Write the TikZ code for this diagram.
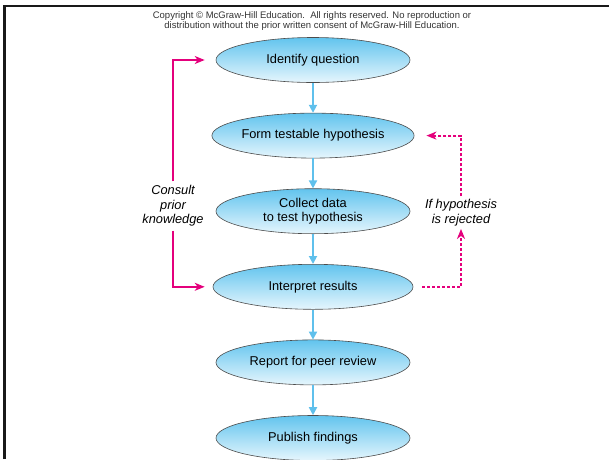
\documentclass[tikz,border=0pt]{standalone}
\usepackage{fontspec}
\setmainfont{Liberation Sans}
\usetikzlibrary{arrows.meta, positioning, shapes.geometric}

\definecolor{skyline}{RGB}{95,192,236}
\definecolor{skytop}{RGB}{98,196,238}
\definecolor{skybottom}{RGB}{230,246,253}
\definecolor{loopmagenta}{RGB}{228,0,124}

\begin{document}
\begin{tikzpicture}[
    x=1pt, y=-1pt,
    % --- Global styles ---
    node distance=30pt,
    every node/.style={font=\fontsize{12.8}{14.5}\selectfont},
    % --- Step ellipses ---
    step box/.style={
      ellipse, draw=black!70, line width=0.6pt,
      top color=skytop, bottom color=skybottom,
      minimum width=194pt, minimum height=45pt, inner sep=0pt,
    },
    % --- Arrow styles ---
    flow/.style={-{Triangle[length=8pt,width=8pt]}, line width=1.8pt, draw=skyline},
    loop arrow/.style={-{Stealth[length=10pt,width=8pt,inset=3pt]},
                       line width=1.7pt, draw=loopmagenta},
    loop dashed/.style={loop arrow, line width=1.9pt, dash pattern=on 3pt off 2pt},
    % --- Label style ---
    side label/.style={font=\itshape\fontsize{12.8}{14.5}\selectfont,
                       align=center, inner sep=4pt},
  ]

  \useasboundingbox (0,0) rectangle (609,459);

  % Frame
  \draw[line width=2.6pt, black!90] (4.3,459) -- (4.3,6) -- (609,6);

  % Copyright notice
  \node[font=\fontsize{9.5}{10.5}\selectfont, text=black!80, align=center] (notice)
    at (312,21) {Copyright \textcopyright{} McGraw-Hill Education.\ \ All rights reserved. No reproduction or\\
    distribution without the prior written consent of McGraw-Hill Education.};

  %% ---- Steps (top to bottom) ----
  \node[step box] (ident) at (313,60) {Identify question};
  \node[step box, below=of ident] (hypo) {Form testable hypothesis};
  \node[step box, below=of hypo, align=center] (collect)
    {Collect data\\to test hypothesis};
  \node[step box, below=of collect, minimum width=200pt] (interp) {Interpret results};
  \node[step box, below=of interp] (report) {Report for peer review};
  \node[step box, below=of report] (publish) {Publish findings};

  %% ---- Side labels ----
  \node[side label] (consult) at (173,206) {Consult\\prior\\knowledge};
  \node[side label, inner sep=3pt] (reject) at (461,212.5) {If hypothesis\\is rejected};

  %% ---- Arrows ----
  \draw[flow] (ident) -- (hypo);
  \draw[flow] (hypo) -- (collect);
  \draw[flow] (collect) -- (interp);
  \draw[flow] (interp) -- (report);
  \draw[flow] (report) -- (publish);

  % Consult prior knowledge loop
  \draw[loop arrow, shorten >=11pt] (consult.north) |- (ident.west);
  \draw[loop arrow, shorten >=8pt] (consult.south) |- (interp.west);

  % Rejection loop
  \draw[loop dashed, shorten <=9pt] (interp.east) -| (reject.south);
  \draw[loop dashed, shorten >=12pt] (reject.north) |- (hypo.east);

\end{tikzpicture}
\end{document}
